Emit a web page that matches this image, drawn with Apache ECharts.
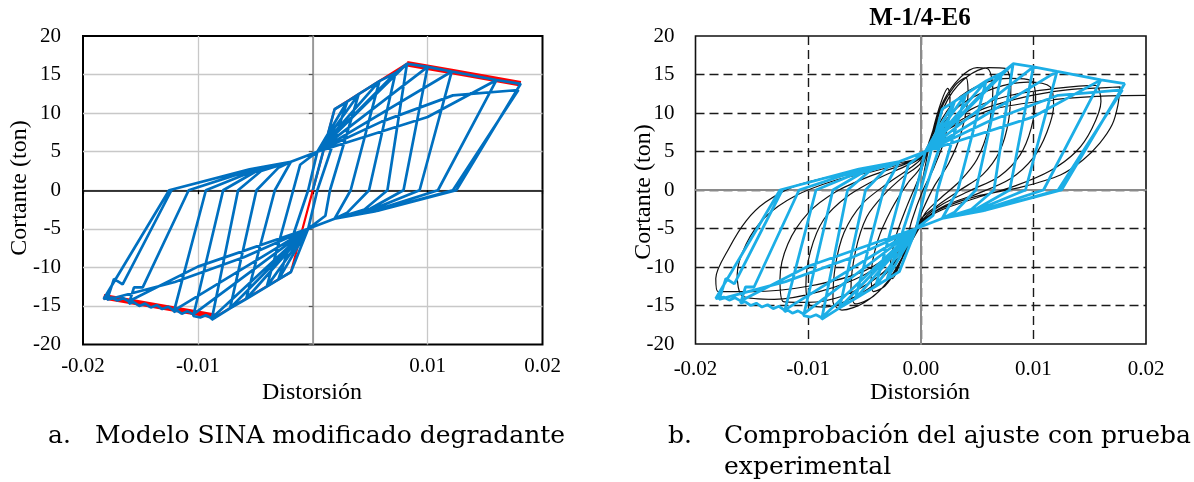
<!DOCTYPE html>
<html><head><meta charset="utf-8">
<script src="https://cdn.jsdelivr.net/npm/echarts@6/dist/echarts.min.js"></script>
<style>html,body{margin:0;padding:0;background:#fff}#c{width:1194px;height:482px}</style>
</head><body><div id="c"></div>
<script>
// ---------- tick values ----------
const xTicks = [-0.02, -0.01, 0, 0.01, 0.02];
const yTicks = [-20, -15, -10, -5, 0, 5, 10, 15, 20];

// ---------- backbone (red) ----------
const backbone = [[-0.0182,-13.8],[-0.0084,-16.35],[-0.0019,-10.6],[0.0019,10.5],[0.0082,16.4],[0.0121,15.4],[0.0181,13.8]];
const backboneThickPos = [[0.0082,16.4],[0.0121,15.4],[0.0181,13.8]];
const backboneThickNeg = [[-0.0182,-13.8],[-0.0084,-16.35]];

// ---------- SINA model cycles (blue) ----------
const cycle1 = [[0,0],[0.0019,10.5],[0.0030,11.5],[0.0004,0],[-0.0004,-5.0],[-0.0019,-10.6],[-0.0030,-11.6],[-0.0004,0]];
const cycle2 = [[0.0004,5.0],[0.0030,11.5],[0.0040,12.45],[0.0015,0],[0.0011,-3.3],[-0.0004,-5.0],[-0.0030,-11.6],[-0.0040,-12.5],[-0.0017,0]];
const cycle3 = [[-0.0011,3.3],[0.0004,5.0],[0.0040,12.45],[0.0058,14.15],[0.0033,0],[0.0019,-3.7],[-0.0004,-5.0],[-0.0040,-12.5],[-0.0058,-14.1],[-0.0033,0]];
const cycle4 = [[-0.0019,3.7],[0.0004,5.0],[0.0058,14.15],[0.0072,15.2],[0.0049,0],[0.0030,-2.9],[0.0019,-3.7],[-0.0004,-5.0],[-0.0058,-14.1],[-0.0072,-15.3],[-0.0049,0]];
const cycle5 = [[-0.0030,2.9],[-0.0019,3.7],[0.0004,5.0],[0.0072,15.2],[0.0082,16.4],[0.0065,0],[0.0045,-2.5],[0.0019,-3.7],[-0.0004,-5.0],[-0.0072,-15.3],[-0.0088,-16.8],[-0.0065,0]];
const cycle6 = [[-0.0045,2.5],[-0.0019,3.7],[0.0004,5.0],[0.0082,16.4],[0.0100,16.0],[0.0079,0],[0.0050,-2.4],[0.0019,-3.7],[-0.0004,-5.0],[-0.0088,-16.6],[-0.0093,-16.2],[-0.0098,-16.5],[-0.0104,-16.3],[-0.0078,0]];
const cycle7 = [[-0.0050,2.4],[-0.0019,3.7],[0.0004,5.0],[0.0100,16.0],[0.0121,15.4],[0.0093,0],[0.0050,-2.6],[0.0019,-3.7],[-0.0004,-5.0],[-0.0104,-16.1],[-0.0109,-15.7],[-0.0114,-16.0],[-0.0118,-15.6],[-0.0121,-15.8],[-0.0093,0]];
const cycle8 = [[-0.0050,2.6],[-0.0019,3.7],[0.0004,5.0],[0.0121,15.4],[0.0160,14.3],[0.0109,0],[0.0050,-2.8],[0.0019,-3.7],[-0.0004,-5.0],[-0.0121,-15.6],[-0.0126,-15.1],[-0.0131,-15.4],[-0.0136,-14.9],[-0.0141,-15.2],[-0.0146,-14.7],[-0.0151,-15.0],[-0.0156,-14.5],[-0.0160,-14.7],[-0.01556,-12.6],[-0.0148,-12.6],[-0.0108,0]];
const cycle9 = [[-0.0050,2.8],[-0.0019,3.7],[0.0004,5.0],[0.0100,9.5],[0.0160,14.3],[0.0181,13.8],[0.0125,0],[0.0055,-2.7],[0.0019,-3.7],[-0.0004,-5.0],[-0.0100,-9.9],[-0.0160,-14.4],[-0.0165,-14.0],[-0.0170,-14.3],[-0.0175,-13.9],[-0.0182,-14.1],[-0.0125,0]];
const cycle10 = [[-0.0055,2.7],[-0.0019,3.7],[0.0004,5.0],[0.0060,8.9],[0.0122,12.3],[0.0179,13.0],[0.0122,0],[0.0058,-2.6],[0.0019,-3.7],[-0.0004,-5.0],[-0.0060,-8.7],[-0.0120,-11.9],[-0.0179,-14.2],[-0.0173,-11.5],[-0.01655,-12.2],[-0.0123,0]];

// ---------- experimental test loops (black) ----------
const exp1 = [[0,0],[0.0008,6],[0.0016,10.5],[0.0024,13.2],[0.0026,12],[0.0022,7],[0.0012,3],[0.0002,0],[-0.0008,-4],[-0.0016,-8.5],[-0.0025,-11.5],[-0.0027,-10],[-0.0022,-6],[-0.0012,-2],[-0.0002,1.5]];
const exp2 = [[0.0006,5],[0.0018,10.5],[0.0030,13.5],[0.0040,14.6],[0.0042,12.5],[0.0036,7.5],[0.0025,3.5],[0.0012,0.5],[0.0002,-2.5],[-0.0008,-6],[-0.0020,-10],[-0.0032,-12.5],[-0.0042,-13.2],[-0.0044,-11],[-0.0038,-6.5],[-0.0026,-2.5],[-0.0012,0.8],[0,3]];
const exp3 = [[0.0008,6.5],[0.0020,11.5],[0.0035,14.6],[0.0050,15.9],[0.0060,15.7],[0.0064,13],[0.0060,8],[0.0050,4],[0.0035,1.2],[0.0018,-1],[0.0004,-3],[-0.0008,-6.5],[-0.0025,-11],[-0.0042,-13.8],[-0.0058,-14.8],[-0.0062,-13],[-0.0058,-8],[-0.0048,-3.5],[-0.0032,-0.5],[-0.0015,1.8],[0,3.5]];
const exp4 = [[0.0010,7],[0.0025,12],[0.0042,14.8],[0.0060,15.9],[0.0075,15.8],[0.0080,13.5],[0.0078,9],[0.0070,5],[0.0055,2],[0.0035,0],[0.0015,-2],[0,-3.8],[-0.0012,-7.5],[-0.0030,-12],[-0.0050,-14.6],[-0.0070,-15.6],[-0.0078,-14.5],[-0.0076,-10],[-0.0068,-5.5],[-0.0052,-1.8],[-0.0030,0.8],[-0.0010,2.8],[0,4]];
const exp5 = [[0.0012,7.5],[0.0030,11.5],[0.0055,13.8],[0.0080,14.5],[0.0098,14.2],[0.0102,12],[0.0098,8],[0.0088,4.5],[0.0070,1.8],[0.0045,0],[0.0020,-1.8],[0.0002,-3.8],[-0.0012,-7.2],[-0.0035,-11.5],[-0.0060,-14],[-0.0085,-15.2],[-0.0098,-15],[-0.0102,-12.5],[-0.0098,-8],[-0.0086,-3.8],[-0.0065,-0.8],[-0.0038,1.5],[-0.0012,3.2],[0,4.2]];
const exp6 = [[0.0014,7.5],[0.0035,11],[0.0065,13.2],[0.0095,14],[0.0115,13.4],[0.0118,11],[0.0112,7.5],[0.0100,4.2],[0.0080,1.5],[0.0050,-0.5],[0.0022,-2],[0.0004,-3.8],[-0.0012,-7.5],[-0.0040,-11.5],[-0.0070,-13.8],[-0.0100,-14.6],[-0.0122,-14.5],[-0.0125,-11.5],[-0.0118,-7],[-0.0100,-3],[-0.0075,-0.2],[-0.0045,1.8],[-0.0015,3.3],[0,4.2]];
const exp7 = [[0.0015,7.3],[0.0045,10.5],[0.0080,12.3],[0.0120,13.2],[0.0155,13.6],[0.0160,11.5],[0.0152,8],[0.0138,5],[0.0115,2.5],[0.0085,0.6],[0.0050,-1],[0.0020,-2.5],[0.0003,-4],[-0.0015,-7.5],[-0.0050,-11],[-0.0090,-13.2],[-0.0130,-14.2],[-0.0158,-13.8],[-0.0163,-11],[-0.0155,-7],[-0.0138,-3.5],[-0.0112,-0.8],[-0.0075,1.3],[-0.0040,2.5],[-0.0012,3.6],[0,4.3]];
const exp8 = [[0.0015,7],[0.0050,10.2],[0.0090,12],[0.0130,13],[0.0165,13.3],[0.0177,13.4],[0.0175,11],[0.0170,8.5],[0.0159,6.1],[0.0144,3.9],[0.0124,1.95],[0.0090,0.4],[0.0050,-0.8],[0.0020,-2.3],[0.0003,-3.8],[-0.0015,-7],[-0.0050,-10.5],[-0.0100,-12.5],[-0.0150,-13.2],[-0.0180,-13.2],[-0.0182,-11.5],[-0.0170,-7.5],[-0.0155,-4],[-0.0138,-1.6],[-0.0110,0.6],[-0.0065,2.2],[-0.0020,3.5],[0,4.3]];
const exp9 = [[0.0015,7],[0.0060,10.3],[0.0110,11.6],[0.0160,12.2],[0.0200,12.3]];

// ---------- texts ----------
const yName = 'Cortante (ton)';
const xName = 'Distorsión';
const titleRight = 'M-1/4-E6';
const captionA = ['a.', 'Modelo SINA modificado degradante'];
const captionB = ['b.', 'Comprobación del ajuste con prueba', 'experimental'];

const modelPath = [].concat(cycle1, cycle2, cycle3, cycle4, cycle5, cycle6, cycle7, cycle8, cycle9, cycle10);
const expPath = [].concat(exp1, exp2, exp3, exp4, exp5, exp6, exp7, exp8, exp9);

const SERIF = '"Liberation Serif", "Times New Roman", serif';
const CAP = '"DejaVu Serif", serif';
const fmtL = v => Math.abs(v) < 1e-9 ? '' : v.toFixed(2);
const fmtR = v => Math.abs(v) < 1e-9 ? '0.00' : v.toFixed(2);

const L = {left: 83, top: 36, width: 459.5, height: 308.5};
const R = {left: 695.5, top: 36, width: 450.5, height: 308};

function mainX(gi, fmt, margin, split) {
  return {gridIndex: gi, type: 'value', min: xTicks[0], max: xTicks[xTicks.length-1], interval: 0.01,
    axisLine: {show: false, onZero: false}, axisTick: {show: false},
    splitLine: Object.assign({show: true, showMinLine: false, showMaxLine: false}, split),
    axisLabel: {formatter: fmt, margin: margin, fontFamily: SERIF, fontSize: 21, color: '#000', showMinLabel: true, showMaxLabel: true}};
}
function mainY(gi, margin, split) {
  return {gridIndex: gi, type: 'value', min: yTicks[0], max: yTicks[yTicks.length-1], interval: 5,
    axisLine: {show: false, onZero: false}, axisTick: {show: false},
    splitLine: Object.assign({show: true, showMinLine: false, showMaxLine: false}, split),
    axisLabel: {margin: margin, fontFamily: SERIF, fontSize: 21, color: '#000'}};
}
function zeroX(gi, color, w, ticks) {
  return {gridIndex: gi, type: 'value', min: xTicks[0], max: xTicks[xTicks.length-1], interval: 0.01, z: 1,
    axisLine: {show: true, onZero: true, lineStyle: {color: color, width: w}},
    axisTick: {show: ticks, length: 4, lineStyle: {color: '#000', width: 1.2}},
    axisLabel: {show: false}, splitLine: {show: false}};
}
function zeroY(gi, color, w, ticks) {
  return {gridIndex: gi, type: 'value', min: yTicks[0], max: yTicks[yTicks.length-1], interval: 5, z: 1,
    axisLine: {show: true, onZero: true, lineStyle: {color: color, width: w}},
    axisTick: {show: ticks, length: 4, lineStyle: {color: '#555', width: 1.2}},
    axisLabel: {show: false}, splitLine: {show: false}};
}

const txt = (x, y, text, font, align, rot) => ({type: 'text', x: x, y: y, rotation: rot || 0, z: 10,
  style: {text: text, font: font, fill: '#000', textAlign: align || 'center', textVerticalAlign: 'middle', align: align || 'center', verticalAlign: 'middle'}});

const option = {
  animation: false,
  backgroundColor: '#fff',
  grid: [
    Object.assign({show: true, borderColor: '#000', borderWidth: 2, backgroundColor: 'transparent'}, L),
    Object.assign({show: false}, L),
    Object.assign({show: true, borderColor: '#111', borderWidth: 1.6, backgroundColor: 'transparent'}, R),
    Object.assign({show: false}, R)
  ],
  xAxis: [
    mainX(0, fmtL, 11, {lineStyle: {color: '#c8c8c8', width: 1.3}}),
    zeroX(1, '#000', 1.5, true),
    mainX(2, fmtR, 15, {lineStyle: {color: '#1a1a1a', width: 1.4, type: [9, 5]}}),
    zeroX(3, '#8a8a8a', 2, false)
  ],
  yAxis: [
    mainY(0, 22, {lineStyle: {color: '#c8c8c8', width: 1.3}}),
    zeroY(1, '#888', 1.5, true),
    mainY(2, 21, {lineStyle: {color: '#1a1a1a', width: 1.4, type: [9, 5]}}),
    zeroY(3, '#8a8a8a', 2, false)
  ],
  series: [
    {type: 'line', xAxisIndex: 0, yAxisIndex: 0, data: backbone, showSymbol: false, symbol: 'none', lineStyle: {color: '#ff0000', width: 2.2}, z: 2},
    {type: 'line', xAxisIndex: 0, yAxisIndex: 0, data: backboneThickPos, showSymbol: false, symbol: 'none', lineStyle: {color: '#ff0000', width: 5.5}, z: 2},
    {type: 'line', xAxisIndex: 0, yAxisIndex: 0, data: backboneThickNeg, showSymbol: false, symbol: 'none', lineStyle: {color: '#ff0000', width: 5.5}, z: 2},
    {type: 'line', xAxisIndex: 0, yAxisIndex: 0, data: modelPath, showSymbol: false, symbol: 'none', lineStyle: {color: '#0070C0', width: 2.7}, z: 3},
    {type: 'line', xAxisIndex: 2, yAxisIndex: 2, data: expPath, showSymbol: false, symbol: 'none', smooth: 0.3, lineStyle: {color: '#111', width: 1.2}, z: 2},
    {type: 'line', xAxisIndex: 2, yAxisIndex: 2, data: modelPath, showSymbol: false, symbol: 'none', lineStyle: {color: '#1CAEE6', width: 2.8}, z: 3}
  ],
  graphic: [
    txt(20, 188, yName, '24px ' + SERIF, 'center', Math.PI / 2),
    txt(312, 393, xName, '24px ' + SERIF, 'center'),
    txt(644, 192, yName, '24px ' + SERIF, 'center', Math.PI / 2),
    txt(920, 393, xName, '24px ' + SERIF, 'center'),
    txt(920, 19, titleRight, 'bold 25px ' + SERIF, 'center'),
    txt(48, 436, captionA[0], '25px ' + CAP, 'left'),
    txt(95, 436, captionA[1], '25px ' + CAP, 'left'),
    txt(668, 436, captionB[0], '25px ' + CAP, 'left'),
    txt(724, 436, captionB[1], '25px ' + CAP, 'left'),
    txt(724, 467, captionB[2], '25px ' + CAP, 'left')
  ]
};
const chart = echarts.init(document.getElementById('c'));
chart.setOption(option);
</script></body></html>
